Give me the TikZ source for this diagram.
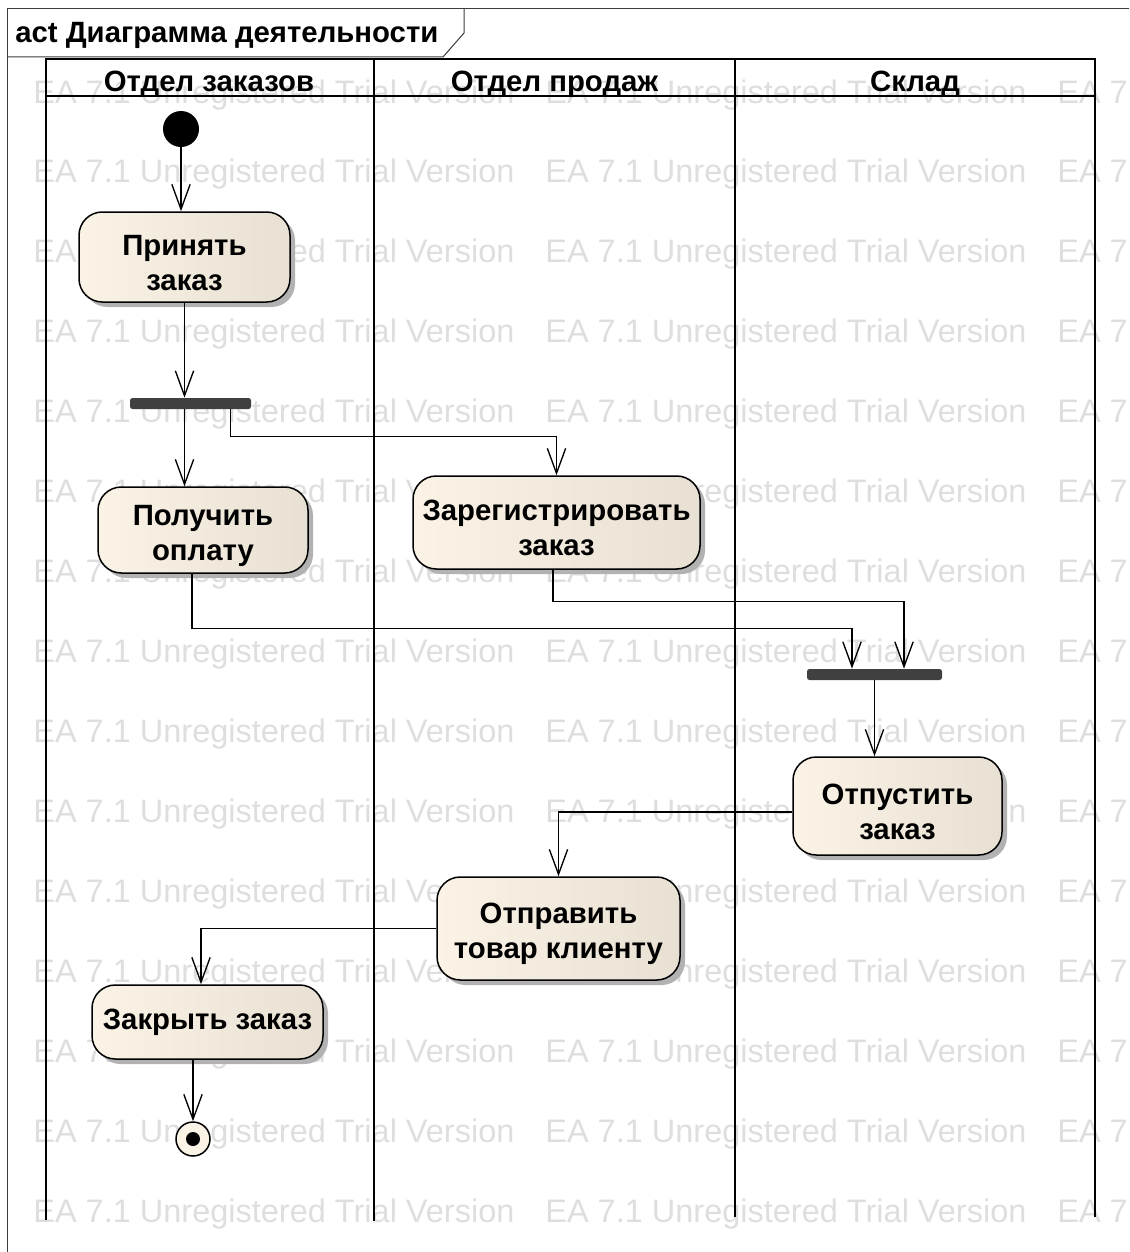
\documentclass[tikz,border=0pt]{standalone}
\usepackage{fontspec}
\setmainfont{Liberation Sans}
\usepackage{tikz}
\usetikzlibrary{arrows.meta,positioning,shadows}
\definecolor{actleft}{RGB}{250,243,230}
\definecolor{actright}{RGB}{232,224,211}
\definecolor{bardark}{RGB}{64,64,64}
\definecolor{wmark}{RGB}{222,222,222}
\definecolor{framec}{RGB}{60,60,60}
\newcommand\liftline{\rule{0pt}{19pt}}

\begin{document}
\begin{tikzpicture}[x=0.6pt,y=-0.6pt,>={Straight Barb[length=15pt,width=11pt]},
  act/.style 2 args={draw=black,line width=0.9pt,rounded corners=14pt,
    minimum width=#1*0.6pt,minimum height=#2*0.6pt,inner sep=0pt,align=center,
    left color=actleft,right color=actright,
    drop shadow={shadow xshift=3pt,shadow yshift=-3pt,fill=black!30,opacity=1},
    font=\fontsize{17.6}{21}\selectfont\bfseries},
  bar/.style={fill=bardark,rounded corners=1.5pt,minimum width=#1*0.6pt,
    minimum height=6.6pt,inner sep=0pt},
  flow/.style={->,line width=0.8pt},
  lane/.style={line width=1.3pt},
  head/.style={font=\fontsize{17.6}{21}\selectfont\bfseries,anchor=base,inner sep=0pt}]
  \useasboundingbox (0,0) rectangle (1129,1252);
  \clip (0,0) rectangle (1129,1252);
  % watermark
  \foreach \r in {0,...,14}
    \foreach \c in {0,1,2}
      \node[wmark,anchor=base west,inner sep=0pt,font=\fontsize{19.5}{20}\selectfont]
        at ({33+512*\c},{103+79.93*\r}) {EA 7.1 Unregistered Trial Version};
  % frame
  \draw[framec,line width=0.6pt] (7,1260) -- (7,9) -- (1140,9);
  \draw[framec,line width=0.6pt] (7,57) -- (443,57) -- (464,33) -- (464,9);
  \node[head,anchor=base west] (title) at (15,43) {act Диаграмма деятельности};
  % swimlanes
  \draw[lane] (46,1220) -- (46,59) -- (1095,59) -- (1095,1217);
  \draw[lane] (46,96) -- (1095,96);
  \draw[lane] (374,59) -- (374,1221);
  \draw[lane] (735,59) -- (735,1217);
  \node[head] (orders) at (209,92) {Отдел заказов};
  \node[head] (sales) at (554.5,92) {Отдел продаж};
  \node[head] (store) at (915,92) {Склад};
  % nodes
  \node[circle,fill=black,minimum size=21.6pt,inner sep=0pt] (init) at (181,129) {};
  \node[act={211}{90}] (accept) at (184.5,257) {\liftline Принять\\заказ};
  \node[bar=121] (fork1) at (190.5,403.5) {};
  \node[act={210}{86}] (pay) at (203,530) {\liftline Получить\\оплату};
  \node[act={287}{93}] (register) at (556.5,522.5) {\liftline Зарегистрировать\\заказ};
  \node[bar=135] (join) at (874.5,674.5) {};
  \node[act={209}{98}] (release) at (897.5,806) {\liftline Отпустить\\заказ};
  \node[act={243}{103}] (ship) at (558.5,928.5) {\liftline Отправить\\товар клиенту};
  \node[act={231}{74}] (close) at (207.5,1022) {Закрыть заказ};
  \node[circle,draw,fill=actleft,line width=0.9pt,minimum size=20.4pt,inner sep=0pt] (final) at (193,1139) {};
  \fill (final.center) circle (4.2pt);
  % flows
  \draw[flow] (init) -- (init |- accept.north);
  \draw[flow] (accept) -- (accept |- fork1.north);
  \draw[flow] (fork1.south -| accept) -- (accept |- pay.north);
  \draw[flow] ([xshift=-12.6pt]fork1.south east) -- ++(0,27) -| (register);
  \draw[flow] ([xshift=-6.6pt]pay.south) -- ++(0,55) -| ([xshift=-13.5pt]join.north);
  \draw[flow] ([xshift=-2.1pt]register.south) -- ++(0,32) -| ([xshift=17.7pt]join.north);
  \draw[flow] (join) -- (join |- release.north);
  \draw[flow] ([yshift=-3.6pt]release.west) -| (ship);
  \draw[flow] (ship.west) -| ([xshift=-3.9pt]close.north);
  \draw[flow] (close.south -| final) -- (final);
\end{tikzpicture}
\end{document}
